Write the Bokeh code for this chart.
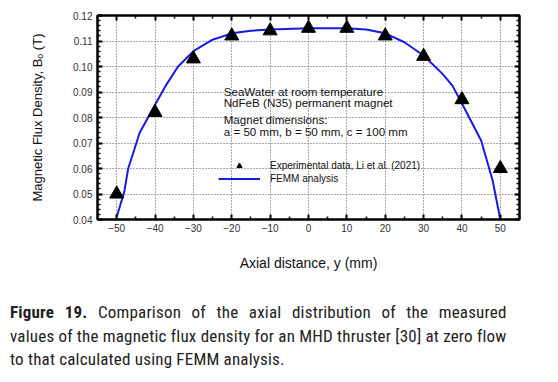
from bokeh.plotting import figure
from bokeh.models import (ColumnDataSource, FixedTicker, LinearAxis, Label, Legend,
                          LegendItem, Div, NumeralTickFormatter, Range1d)
from bokeh.layouts import column
from bokeh.embed import file_html
from bokeh.resources import INLINE

# ---- data ----
exp_y_mm = [-50, -40, -30, -20, -10, 0, 10, 20, 30, 40, 50]
exp_b = [0.050, 0.082, 0.103, 0.112, 0.114, 0.115, 0.115, 0.112, 0.104, 0.087, 0.060]

femm_y_mm = [-50, -48, -47, -44, -40, -37, -34, -30, -25, -20, -15, -10, 0, 10, 15, 20,
             25, 30, 35, 37.5, 40, 45, 48, 50]
femm_b = [0.041, 0.051, 0.060, 0.074, 0.085, 0.093, 0.100, 0.106, 0.1105, 0.113, 0.114,
          0.1145, 0.115, 0.115, 0.1145, 0.113, 0.1095, 0.1043, 0.097, 0.0925, 0.0855,
          0.071, 0.0553, 0.040]

x_ticks = [-50, -40, -30, -20, -10, 0, 10, 20, 30, 40, 50]
x_minor = [-55, -45, -35, -25, -15, -5, 5, 15, 25, 35, 45, 55]
y_ticks = [0.04, 0.05, 0.06, 0.07, 0.08, 0.09, 0.10, 0.11, 0.12]
y_minor = [round(0.04 + 0.002 * i, 3) for i in range(41)]

annot_lines = ["SeaWater at room temperature", "NdFeB (N35) permanent magnet",
               "Magnet dimensions:", "a = 50 mm, b = 50 mm, c = 100 mm"]
annot_y = [0.0903, 0.0859, 0.0792, 0.0745]
annot_x = -22.1

FONT = "Liberation Sans"

p = figure(width=550, height=285, output_backend="svg", toolbar_location=None,
           x_range=Range1d(-55, 55), y_range=Range1d(0.04, 0.12),
           min_border_left=97, min_border_right=31, min_border_top=15, min_border_bottom=66,
           background_fill_color="white", border_fill_color="white")
p.outline_line_color = "black"
p.outline_line_width = 2

xt = FixedTicker(ticks=x_ticks, minor_ticks=x_minor)
yt = FixedTicker(ticks=y_ticks, minor_ticks=y_minor)

p.xaxis.ticker = xt
p.yaxis.ticker = yt
p.yaxis.formatter = NumeralTickFormatter(format="0.00")
for ax in [p.xaxis[0], p.yaxis[0]]:
    ax.major_tick_in = 5
    ax.major_tick_out = 0
    ax.minor_tick_in = 3
    ax.minor_tick_out = 0
    ax.axis_line_width = 2
    ax.major_tick_line_width = 2
    ax.minor_tick_line_width = 1.5
    ax.major_label_text_font = FONT
    ax.major_label_text_font_size = "10px"
    ax.major_label_text_color = "#333333"
    ax.axis_label_text_font = FONT
    ax.axis_label_text_font_style = "normal"
    ax.axis_label_text_color = "#111111"

p.xaxis.axis_label = "Axial distance, y (mm)"
p.xaxis.axis_label_text_font_size = "14px"
p.xaxis.major_label_standoff = 4
p.xaxis.axis_label_standoff = 20
p.yaxis.axis_label = "Magnetic Flux Density, B\u2092 (T)"
p.yaxis.axis_label_text_font_size = "13px"
p.yaxis.major_label_standoff = 5
p.yaxis.axis_label_standoff = 25

for loc in ["right", "above"]:
    ax = LinearAxis(ticker=yt if loc == "right" else xt)
    ax.major_label_text_font_size = "9px"
    ax.major_label_text_color = None
    ax.major_label_text_alpha = 0
    ax.major_label_standoff = 0
    ax.major_tick_in = 5
    ax.major_tick_out = 0
    ax.minor_tick_in = 3
    ax.minor_tick_out = 0
    ax.axis_line_width = 2
    ax.major_tick_line_width = 2
    ax.minor_tick_line_width = 1.5
    p.add_layout(ax, loc)

p.xgrid.ticker = xt
p.ygrid.ticker = yt
for g in [p.xgrid[0], p.ygrid[0]]:
    g.grid_line_color = "#555555"
    g.grid_line_dash = "1 2"
    g.grid_line_width = 1

src_e = ColumnDataSource(dict(x=exp_y_mm, y=exp_b))
src_f = ColumnDataSource(dict(x=femm_y_mm, y=femm_b))

r_line = p.line("x", "y", source=src_f, line_color="#1a1ae6", line_width=2)
r_tri = p.scatter("x", "y", source=src_e, marker="triangle", size=14,
                  fill_color="black", line_color="black")

for txt, yy in zip(annot_lines, annot_y):
    p.add_layout(Label(x=annot_x, y=yy, text=txt, text_font=FONT, text_font_size="11.6px",
                       text_baseline="middle", text_color="#111111"))

legend = Legend(items=[LegendItem(label="Experimental data, Li et al. (2021)", renderers=[r_tri]),
                       LegendItem(label="FEMM analysis", renderers=[r_line])],
                location=(121, 34), padding=0, margin=0, spacing=0,
                glyph_width=42, glyph_height=13, label_height=13, label_standoff=10,
                label_text_font=FONT, label_text_font_size="10px",
                label_text_color="#111111",
                border_line_color=None, background_fill_alpha=0)
p.add_layout(legend, "center")

caption_html = (
    '<div style="font-family: \'Liberation Sans Narrow\', \'Roboto Condensed\', \'DejaVu Sans Condensed\', sans-serif;'
    ' font-size: 17px; letter-spacing: 0.2px; line-height: 23.5px; color: #222;">'
    '<div style="text-align: justify; text-align-last: justify;"><b>Figure 19.</b> Comparison of the axial distribution of the measured</div>'
    '<div style="text-align: justify; text-align-last: justify;">values of the magnetic flux density for an MHD thruster [30] at zero flow</div>'
    '<div>to that calculated using FEMM analysis.</div>'
    '</div>'
)
cap = Div(text=caption_html, width=503, margin=(16, 0, 0, 10))

layout = column(p, cap, spacing=0)
open("out.html", "w").write(file_html(layout, INLINE))
